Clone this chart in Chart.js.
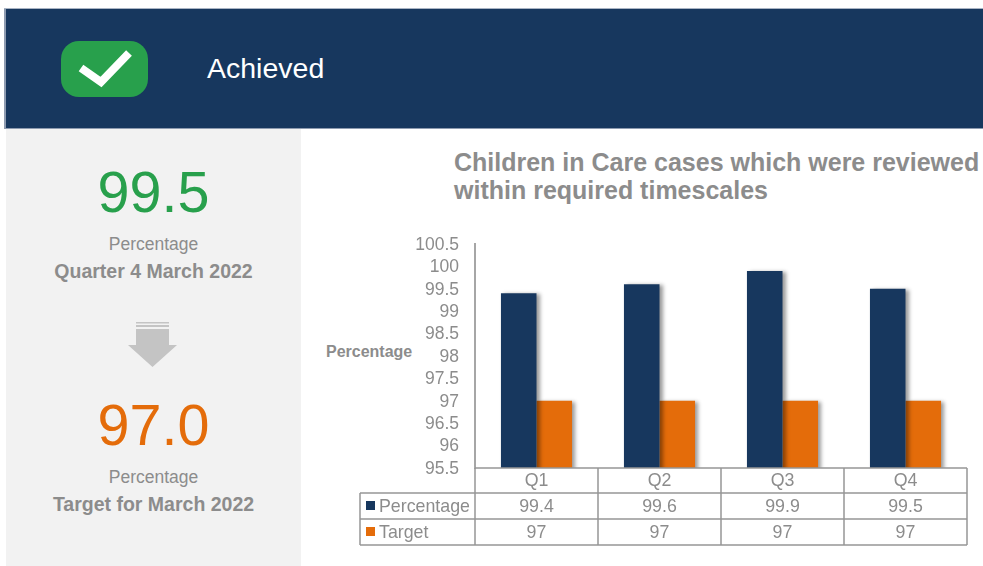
<!DOCTYPE html>
<html lang="en">
<head>
<meta charset="UTF-8">
<title>Children in Care cases reviewed</title>
<style>
    html, body { margin: 0; padding: 0; background: #fff; width: 983px; height: 566px; overflow: hidden; }
    body { font-family: "Liberation Sans", Arial, sans-serif; color: #8c8c8c; position: relative; }
    .abs { position: absolute; white-space: nowrap; }
    #header { left: 4px; top: 9px; width: 979px; height: 119px; background: #17375e; box-shadow: 0 -1px 0 #a9b4c4, 0 1px 0 #8e9bb0; border-left: 2px solid #8e9bb0; box-sizing: border-box; }
    #panel { left: 6px; top: 129px; width: 295px; height: 437px; background: #f2f2f2; }
    #badge { left: 61px; top: 41px; width: 87px; height: 56px; background: #28a04c; border-radius: 18px; }
    #status { left: 207px; top: 52px; font-size: 28.5px; line-height: 32px; color: #fff; }
    .center { left: 6px; width: 295px; text-align: center; }
    .big { font-size: 57.5px; line-height: 66px; }
    .small { font-size: 17.5px; line-height: 20px; }
    .strong { font-size: 19.5px; line-height: 22px; font-weight: bold; }
    #title { left: 454px; top: 148px; font-size: 25px; line-height: 28px; font-weight: bold; }
    #yTitle { left: 326px; top: 343px; font-size: 16px; line-height: 18px; font-weight: bold; }
    #chartBox { left: 320px; top: 230px; width: 663px; height: 336px; }
    canvas { display: block; }
</style>
</head>
<body>
    <div class="abs" id="header"></div>
    <div class="abs" id="panel"></div>
    <div class="abs" id="badge">
        <svg width="87" height="56"><polyline points="20,27 40,41 68,12" fill="none" stroke="#fff" stroke-width="8"/></svg>
    </div>
    <div class="abs" id="status">Achieved</div>

    <div class="abs center big" id="actual" style="top:159px;color:#28a04c">99.5</div>
    <div class="abs center small" style="top:234px">Percentage</div>
    <div class="abs center strong" style="top:260px">Quarter 4 March 2022</div>
    <svg class="abs" style="left:128px;top:321px" width="50" height="48">
        <rect x="8" y="1" width="33" height="1.5" fill="#c4c4c4"/>
        <rect x="8" y="4" width="33" height="2" fill="#c4c4c4"/>
        <polygon points="8,8 41,8 41,24 49,24 24.5,46 0,24 8,24" fill="#c4c4c4"/>
    </svg>
    <div class="abs center big" id="target" style="top:392px;color:#e46c0a">97.0</div>
    <div class="abs center small" style="top:467px">Percentage</div>
    <div class="abs center strong" style="top:493px">Target for March 2022</div>

    <div class="abs" id="title">Children in Care cases which were reviewed<br>within required timescales</div>
    <div class="abs" id="yTitle">Percentage</div>
    <div class="abs" id="chartBox"><canvas id="chart" width="663" height="336"></canvas></div>

    <script src="https://cdn.jsdelivr.net/npm/chart.js"></script>
    <script>
var categories = ["Q1", "Q2", "Q3", "Q4"];
var percentage = [99.4, 99.6, 99.9, 99.5];
var target = [97, 97, 97, 97];
var navy = "#17375e";
var orange = "#e46c0a";
var textGrey = "#8c8c8c";
var lineGrey = "#969696";

// soft shadow on the right of each bar
var barShadow = {
    id: "barShadow",
    beforeDatasetDraw: function (chart) {
        var c = chart.ctx;
        c.save();
        c.shadowColor = "rgba(0,0,0,0.4)";
        c.shadowBlur = 4;
        c.shadowOffsetX = 3;
        c.shadowOffsetY = 1;
    },
    afterDatasetDraw: function (chart) {
        chart.ctx.restore();
    }
};

// data table under the plot, lined up with the x scale
var dataTable = {
    id: "dataTable",
    afterDraw: function (chart) {
        var c = chart.ctx;
        var area = chart.chartArea;
        var x = chart.scales.x;
        var rowH = 26;
        var catH = 25;
        var tableLeft = 40;
        var top = area.bottom;
        var r1 = top + catH, r2 = r1 + rowH, r3 = r2 + rowH;
        var step = (area.right - area.left) / categories.length;

        c.save();
        c.strokeStyle = lineGrey;
        c.lineWidth = 1.5;
        c.beginPath();
        c.moveTo(area.left, top); c.lineTo(area.right, top);
        c.moveTo(tableLeft, r1); c.lineTo(area.right, r1);
        c.moveTo(tableLeft, r2); c.lineTo(area.right, r2);
        c.moveTo(tableLeft, r3); c.lineTo(area.right, r3);
        c.moveTo(tableLeft, r1); c.lineTo(tableLeft, r3);
        for (var i = 0; i <= categories.length; i++) {
            var lx = area.left + i * step;
            c.moveTo(lx, top); c.lineTo(lx, r3);
        }
        c.stroke();

        c.fillStyle = navy;
        c.fillRect(tableLeft + 6, r1 + 8, 9, 9);
        c.fillStyle = orange;
        c.fillRect(tableLeft + 6, r2 + 8, 9, 9);

        c.fillStyle = textGrey;
        c.font = '17.8px "Liberation Sans", Arial, sans-serif';
        c.textBaseline = "middle";
        c.textAlign = "left";
        c.fillText(chart.data.datasets[0].label, tableLeft + 19, r1 + rowH / 2 + 1);
        c.fillText(chart.data.datasets[1].label, tableLeft + 19, r2 + rowH / 2 + 1);
        c.textAlign = "center";
        categories.forEach(function (q, i) {
            var cx = x.getPixelForValue(i);
            c.fillText(q, cx, top + catH / 2 + 1);
            c.fillText(String(percentage[i]), cx, r1 + rowH / 2 + 1);
            c.fillText(String(target[i]), cx, r2 + rowH / 2 + 1);
        });
        c.restore();
    }
};

new Chart(document.getElementById("chart"), {
    type: "bar",
    data: {
        labels: categories,
        datasets: [
            { label: "Percentage", data: percentage, backgroundColor: navy },
            { label: "Target", data: target, backgroundColor: orange }
        ]
    },
    plugins: [barShadow, dataTable],
    options: {
        responsive: false,
        animation: false,
        layout: { padding: { left: 0, right: 16, top: 14, bottom: 0 } },
        datasets: { bar: { barPercentage: 1, categoryPercentage: 0.578 } },
        plugins: { legend: { display: false }, tooltip: { enabled: false } },
        scales: {
            x: {
                grid: { display: false },
                border: { display: false },
                ticks: { display: false },
                afterFit: function (s) { s.height = 98; }
            },
            y: {
                min: 95.5,
                max: 100.5,
                // tick length gives the label gap, tick padding would also inset the plot top
                grid: { drawOnChartArea: false, drawTicks: true, tickLength: 16, tickColor: "rgba(0,0,0,0)" },
                border: { display: true, color: "#a6a6a6", width: 2 },
                ticks: {
                    stepSize: 0.5,
                    padding: 0,
                    labelOffset: 1,
                    autoSkip: false,
                    color: textGrey,
                    font: { family: '"Liberation Sans", Arial, sans-serif', size: 17.5 },
                    callback: function (v) { return String(v); }
                },
                afterFit: function (s) { s.width = 155; }
            }
        }
    }
});
    </script>
</body>
</html>
